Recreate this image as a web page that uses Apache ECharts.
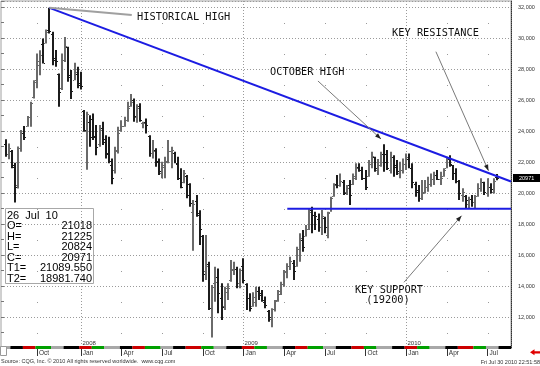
<!DOCTYPE html>
<html><head><meta charset="utf-8">
<script src="https://cdn.jsdelivr.net/npm/echarts@6/dist/echarts.min.js"></script>
<style>html,body{margin:0;padding:0;background:#fff}#c{width:540px;height:366px}</style>
</head><body><div id="c"></div>
<script>
// ---- data: weekly bars, first bar = week of 23 Jul 2007 ----
const firstWeek = '2007-07-23';
const opens = [23200,22500,22700,21700,20500,22900,23900,24300,24900,26200,27300,28300,29600,29700,30500,30300,28600,27700,26800,28600,29400,27500,27300,27700,27100,25300,24000,24600,24800,23600,23200,24200,23500,22600,21800,21500,22700,24100,24300,24700,25600,26000,24900,25600,24500,24600,23700,22600,22800,22100,21300,21700,22100,22700,22600,21900,21000,20700,21100,20600,18800,19500,18600,17200,15000,15400,12000,14200,14600,13200,12700,13600,14400,15100,15100,14200,15300,14150,13200,12700,12950,13700,13400,13000,12400,11900,12500,13100,13500,14100,15000,15300,15500,15300,16400,17000,17200,17700,18900,18600,18300,17800,18400,17300,18800,19800,20600,20500,20700,20100,20500,20600,21000,21700,21500,21000,21100,21900,22300,21500,21800,22500,22500,21500,22300,21800,21300,21500,21900,22200,21600,20600,20200,19700,20100,20400,20600,20900,21200,20900,21100,21600,22200,21800,21300,20800,19900,19800,19300,19600,19400,19800,20300,20700,20000,20400,20100,21018];
const highs = [23470,23200,22780,21960,23000,24070,24330,24970,25890,27290,29010,29220,29980,30560,31958,30410,29230,27720,29010,30080,29440,27940,28410,28150,27830,25360,25250,25030,25140,24390,24390,24600,23740,23640,22240,22990,24280,24710,24930,25890,26390,26100,25740,25800,24600,24820,23740,23420,22890,22240,22030,22350,23420,22990,22670,22340,21600,21490,21160,20630,19550,19870,18900,17290,17290,15570,14070,15250,15140,14180,13960,14180,15680,15570,15250,15140,15790,14180,13530,13600,13960,13960,13750,13320,12460,12560,13100,13750,14280,15040,15470,15890,15680,16540,17400,17620,17940,19020,19120,18800,18690,18910,18470,18800,19760,20630,21160,21270,20840,20520,20840,21270,21920,21920,21700,21490,22130,22670,22350,22200,22670,23150,22780,22670,22450,22130,22020,22240,22560,22560,21920,20730,20520,20840,20840,21050,21270,21380,21490,21380,21600,22340,22450,21810,21600,20840,20310,19870,19760,19870,19870,20630,20950,20730,20950,20630,20950,21225];
const lows = [22350,22180,21600,19386,20300,22670,23420,24280,24280,26110,26760,27610,28370,29660,30300,28260,28150,25570,26650,28470,27180,26070,27290,26760,26690,23960,21500,22990,23420,22450,22990,23100,22240,21920,20572,21270,22560,23960,24280,24600,25570,24600,24540,24600,24180,23850,22350,22240,21700,21160,20950,20950,21920,21600,21920,20840,20310,20630,19660,19120,16283,18470,16650,14280,14390,12460,10676,12990,12240,11810,12460,13100,14280,14710,13860,13860,14180,12460,12350,12670,12670,13100,12990,12560,11700,11345,12350,12990,13420,13960,14500,15040,14390,15250,15570,16220,17190,17620,17400,17620,17510,17290,17400,17080,18800,19770,20310,20410,19880,19880,19230,20520,20840,21380,20840,20200,21050,21600,21380,21160,21700,21380,21490,21270,21050,21160,20950,21270,21490,21600,20310,19770,19440,19550,19980,20090,20410,20520,20840,20520,21050,21600,21700,20840,20630,19550,19440,19020,18971,19120,19020,19770,20090,19870,19760,19980,19980,20824];
const closes = [22500,22900,21800,20400,22900,23900,23600,24900,25800,27140,28500,28900,28400,30400,30470,28700,28500,26500,28600,29500,27600,26600,27800,27000,26900,24100,25100,23600,23700,23000,24100,23300,22500,22100,21000,22800,23900,24300,24700,25500,25900,25000,25500,24700,24530,24400,22600,22700,22000,21400,21800,22000,22700,22800,21950,21000,20400,21300,19900,19350,19300,18700,17700,14800,15300,12600,13970,14250,13540,12660,13890,13850,15050,15130,14180,15040,14380,13250,12580,13280,13650,13550,13100,12800,12000,12500,13050,13650,14100,14900,15300,15600,15000,16400,17100,16500,17700,18800,18600,18500,17800,18500,17800,18700,19700,20500,20500,20800,20000,20300,19900,21100,21600,21500,21000,20400,21900,22400,21600,21800,22500,22000,21600,22300,21700,21400,21500,21870,22300,21650,20700,20100,19700,20000,20400,20600,20900,21200,20900,21000,21500,22200,21900,21300,20800,20000,20100,19550,19600,19400,19800,20300,20700,20100,20400,20250,20800,20971];
const lastLabel = '26  Jul  10';
const T1 = 21089.55;            // trend line value at last bar
const T2 = 18981.74;            // support line value
const supportStart = '2009-04-13';
const monthNames = ['Jan','Feb','Mar','Apr','May','Jun','Jul','Aug','Sep','Oct','Nov','Dec'];
const priceRange = [10000, 32400];
const priceStep = 2000;
const notes = [
  {text:'HISTORICAL HIGH', at:[42.0, 31367], align:'left'},
  {text:'OCTOBER HIGH',    at:[84.5, 27817], align:'left'},
  {text:'KEY RESISTANCE',  at:[123.5, 30334], align:'left'},
  {text:'KEY SUPPORT',     at:[122.5, 13713], align:'center'},
  {text:'(19200)',         at:[122.2, 13068], align:'center'}
];
const leaders = [
  {from:[14, 31958],    to:[40.3, 31496],  head:false},
  {from:[99.8, 27236],  to:[119.95, 23492], head:true},
  {from:[137.5, 29127], to:[154.3, 21446], head:true},
  {from:[127.3, 14242], to:[145.7, 18541], head:true}
];

// ---- helpers ----
const X_MIN = -1.5, X_MAX = 161.5;
const Y_MIN = priceRange[0], Y_MAX = priceRange[1];
const W0 = Date.parse(firstWeek + 'T00:00:00Z');
const DAY = 86400000;
const weekDate = i => new Date(W0 + i * 7 * DAY);
const FONT = "'Liberation Sans', Arial, sans-serif";
const MONO = "'DejaVu Sans Mono', monospace";
const n = closes.length, LAST_I = n - 1;

let HIGH_I = 0; highs.forEach((h, i) => { if (h > highs[HIGH_I]) HIGH_I = i; });
const HIGH_VAL = highs[HIGH_I];
const slope = (T1 - HIGH_VAL) / (LAST_I - HIGH_I);
const trendEnd = T1 + slope * (X_MAX - LAST_I);
const SUP_I = Math.round((Date.parse(supportStart + 'T00:00:00Z') - W0) / (7 * DAY));

const quarterIdx = [];
for (let i = Math.ceil(X_MIN); i <= Math.floor(X_MAX); i++) {
  const d = weekDate(i);
  if (d.getUTCMonth() % 3 === 0 && d.getUTCDate() <= 7) quarterIdx.push(i);
}
const colorOf = key => (((key - (2009 * 12 + 3)) % 4) + 4) % 4;
const stripColors = ['#000000', '#cc0000', '#00a000', '#a8a8a8'];
const segs = [];
let segStart = X_MIN, curKey = null;
for (let i = Math.ceil(X_MIN); i <= Math.floor(X_MAX); i++) {
  const d = weekDate(i), key = d.getUTCFullYear() * 12 + d.getUTCMonth();
  if (curKey === null) { curKey = key; continue; }
  if (key !== curKey) { segs.push([segStart, i - 0.5, colorOf(curKey)]); segStart = i - 0.5; curKey = key; }
}
segs.push([segStart, X_MAX, colorOf(curKey)]);

const chart = echarts.init(document.getElementById('c'), null, {renderer: 'canvas'});
const txt = (o) => Object.assign({textAlign: o.align, textVerticalAlign: o.verticalAlign}, o);

const option = {
  animation: false,
  backgroundColor: '#ffffff',
  grid: {left: 1, right: 29, top: 1, bottom: 18, show: true, borderColor: '#a0a0a0', borderWidth: 1, outerBoundsMode: 'none', containLabel: false},
  xAxis: {
    type: 'value', min: X_MIN, max: X_MAX,
    axisLine: {show: false, onZero: false},
    splitLine: {show: false},
    axisTick: {show: true, customValues: quarterIdx, length: 8, lineStyle: {color: '#333'}},
    axisLabel: {show: true, customValues: quarterIdx, formatter: v => monthNames[weekDate(v).getUTCMonth()],
      align: 'left', padding: [0, 0, 0, 2], margin: 2, fontSize: 6.5, color: '#333', fontFamily: FONT}
  },
  yAxis: [
    {type: 'value', position: 'right', min: Y_MIN, max: Y_MAX, interval: priceStep,
      splitLine: {show: true, lineStyle: {color: '#9a9a9a', type: [1, 2], width: 1}},
      axisLine: {show: true, onZero: false, lineStyle: {color: '#333', type: [1, 1]}},
      axisTick: {show: false},
      axisLabel: {show: true, showMinLabel: false, showMaxLabel: false, margin: 7, fontSize: 5.5, color: '#333', fontFamily: FONT}},
    {type: 'value', position: 'left', min: Y_MIN, max: Y_MAX, interval: 1000,
      splitLine: {show: false}, axisLine: {show: false, onZero: false},
      axisTick: {show: true, inside: true, length: 3, lineStyle: {color: '#777'}}, axisLabel: {show: false}}
  ],
  series: [
    { // year lines, quarter dots, year labels
      type: 'custom', silent: true, clip: false, z: 1,
      data: quarterIdx.map(i => [i, weekDate(i).getUTCMonth() === 0 ? 1 : 0, weekDate(i).getUTCFullYear()]),
      renderItem(params, api) {
        const cs = params.coordSys, i = api.value(0);
        const x = Math.round(api.coord([i, Y_MIN])[0]) + 0.5;
        const ch = [];
        if (api.value(1)) {
          ch.push({type: 'line', shape: {x1: x, y1: cs.y, x2: x, y2: cs.y + cs.height}, style: {stroke: '#9a9a9a', lineDash: [1, 2], lineWidth: 1}});
          ch.push({type: 'text', style: txt({text: String(api.value(2)), x: x + 1, y: cs.y + cs.height - 5, fill: '#333', font: '6px ' + FONT, align: 'left', verticalAlign: 'middle'})});
        } else {
          for (let v = Y_MIN + 1000; v < Y_MAX; v += priceStep) {
            const p = api.coord([i, v]);
            ch.push({type: 'rect', shape: {x: x - 0.5, y: Math.round(p[1]), width: 1, height: 1}, style: {fill: '#9a9a9a'}});
          }
        }
        return {type: 'group', children: ch};
      }
    },
    { // coloured month strip on the time axis
      type: 'custom', silent: true, clip: false, z: 3,
      data: segs,
      renderItem(params, api) {
        const p1 = api.coord([api.value(0), Y_MIN]), p2 = api.coord([api.value(1), Y_MIN]);
        return {type: 'rect', shape: {x: p1[0], y: p1[1] - 2, width: p2[0] - p1[0], height: 3}, style: {fill: stripColors[api.value(2)]}};
      }
    },
    { // OHLC bars
      type: 'custom', silent: true, z: 4,
      encode: {x: 0, y: [1, 2, 3, 4]},
      data: opens.map((o, i) => [i, o, highs[i], lows[i], closes[i]]),
      renderItem(params, api) {
        const i = api.value(0), o = api.value(1), h = api.value(2), l = api.value(3), c = api.value(4);
        const pH = api.coord([i, h]), pL = api.coord([i, l]);
        const x = Math.round(pH[0]);
        const yO = Math.round(api.coord([i, o])[1]), yC = Math.round(api.coord([i, c])[1]);
        const col = c >= o ? '#6a6a6a' : '#1c1c1c';
        return {type: 'group', children: [
          {type: 'rect', shape: {x: x - 1, y: pH[1], width: 2, height: Math.max(1, pL[1] - pH[1])}, style: {fill: col}},
          {type: 'rect', shape: {x: x - 2, y: yO, width: 1, height: 1}, style: {fill: col}},
          {type: 'rect', shape: {x: x + 1, y: yC, width: 1, height: 1}, style: {fill: col}}
        ]};
      }
    },
    { type: 'line', silent: true, z: 6, symbol: 'none', data: [[HIGH_I, HIGH_VAL], [X_MAX, trendEnd]], lineStyle: {color: '#1c1ce2', width: 2} },
    { type: 'line', silent: true, z: 6, symbol: 'none', data: [[SUP_I, T2], [X_MAX, T2]], lineStyle: {color: '#1c1ce2', width: 2} },
    { // leader lines and arrows
      type: 'custom', silent: true, clip: false, z: 7,
      data: leaders.map(a => [a.from[0], a.from[1], a.to[0], a.to[1], a.head ? 1 : 0]),
      renderItem(params, api) {
        const p1 = api.coord([api.value(0), api.value(1)]), p2 = api.coord([api.value(2), api.value(3)]);
        const head = api.value(4);
        const ch = [{type: 'line', shape: {x1: p1[0], y1: p1[1], x2: p2[0], y2: p2[1]},
          style: {stroke: head ? '#7a7a7a' : '#a0a0a0', lineWidth: head ? 1 : 2}}];
        if (head) {
          const dx = p2[0] - p1[0], dy = p2[1] - p1[1], L = Math.hypot(dx, dy), ux = dx / L, uy = dy / L;
          const bx = p2[0] - ux * 6, by = p2[1] - uy * 6;
          ch.push({type: 'polygon', shape: {points: [[p2[0], p2[1]], [bx - uy * 2.2, by + ux * 2.2], [bx + uy * 2.2, by - ux * 2.2]]}, style: {fill: '#222'}});
        }
        return {type: 'group', children: ch};
      }
    },
    { // annotation texts
      type: 'custom', silent: true, clip: false, z: 8,
      data: notes.map(t => t.at),
      renderItem(params, api) {
        const p = api.coord([api.value(0), api.value(1)]);
        const t = notes[params.dataIndex];
        return {type: 'text', style: txt({text: t.text, x: p[0], y: p[1], fill: '#111', font: '10.3px ' + MONO, align: t.align, verticalAlign: 'middle'})};
      }
    },
    { // last price tag on the price scale
      type: 'custom', silent: true, clip: false, z: 9,
      data: [[LAST_I, closes[LAST_I]]],
      renderItem(params, api) {
        const cs = params.coordSys, p = api.coord([api.value(0), api.value(1)]);
        const x0 = cs.x + cs.width + 2;
        return {type: 'group', children: [
          {type: 'rect', shape: {x: x0, y: Math.round(p[1]) - 4, width: 540 - x0, height: 8}, style: {fill: '#000'}},
          {type: 'text', style: txt({text: String(api.value(1)), x: x0 + 6, y: Math.round(p[1]), fill: '#fff', font: '5.5px ' + FONT, align: 'left', verticalAlign: 'middle'})}
        ]};
      }
    }
  ],
  graphic: [
    {type: 'group', left: 5, top: 208, z: 100, children: (function () {
      const rows = [['O=', opens[LAST_I]], ['H=', highs[LAST_I]], ['L=', lows[LAST_I]], ['C=', closes[LAST_I]], ['T1=', T1.toFixed(3)], ['T2=', T2.toFixed(3)]];
      const f = '11px ' + FONT;
      const ch = [
        {type: 'rect', shape: {x: 0.5, y: 0.5, width: 88, height: 75}, style: {fill: '#fff', stroke: '#a8a8a8', lineWidth: 1}},
        {type: 'text', style: txt({text: lastLabel, x: 2, y: 7.5, fill: '#000', font: f, align: 'left', verticalAlign: 'middle'})}
      ];
      rows.forEach((r, k) => {
        const y = 18 + k * 10.6;
        ch.push({type: 'text', style: txt({text: r[0], x: 2, y: y, fill: '#000', font: f, align: 'left', verticalAlign: 'middle'})});
        ch.push({type: 'text', style: txt({text: String(r[1]), x: 87, y: y, fill: '#000', font: f, align: 'right', verticalAlign: 'middle'})});
      });
      return ch;
    })()},
    {type: 'rect', z: 100, shape: {x: 0.5, y: 346.5, width: 6, height: 9}, style: {fill: '#fff', stroke: '#999', lineWidth: 1}},
    {type: 'polygon', z: 100, shape: {points: [[530, 352.3], [534.5, 349.3], [534.5, 351.2], [540, 351.2], [540, 353.4], [534.5, 353.4], [534.5, 355.3]]}, style: {fill: '#e00000'}},
    {type: 'text', z: 100, style: txt({text: 'Source: CQG, Inc. \u00a9 2010 All rights reserved worldwide.  www.cqg.com', x: 1, y: 361.5, fill: '#333', font: '5.5px ' + FONT, align: 'left', verticalAlign: 'middle'})},
    {type: 'text', z: 100, style: txt({text: 'Fri Jul 30 2010 22:51:58', x: 540, y: 362, fill: '#333', font: '5.5px ' + FONT, align: 'right', verticalAlign: 'middle'})}
  ]
};
chart.setOption(option);
</script>
</body></html>
